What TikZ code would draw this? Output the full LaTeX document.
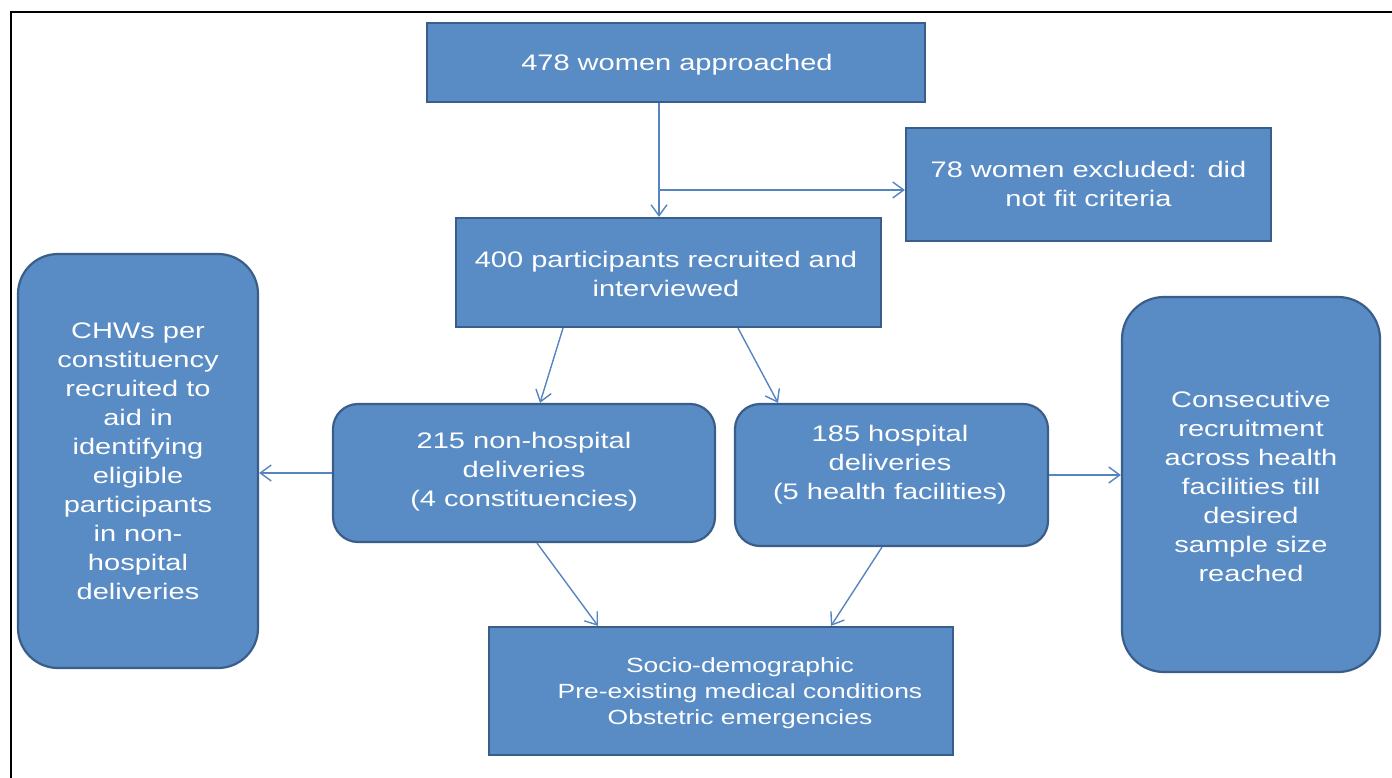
\documentclass[tikz,border=0pt]{standalone}
\usepackage{fontspec}
\setmainfont[FakeStretch=1.29]{Liberation Sans}
\usetikzlibrary{arrows.meta}
\definecolor{boxfill}{RGB}{89,139,196}
\definecolor{boxline}{RGB}{58,94,138}
\definecolor{arr}{RGB}{84,133,192}
\begin{document}
\begin{tikzpicture}[x=1pt,y=-1pt,
  box/.style={draw=boxline, fill=boxfill, line width=2.2pt, inner sep=0pt},
  txt/.style={text=white, align=center, font=\fontsize{22.5}{29}\selectfont, inner sep=0pt},
  smalltxt/.style={txt, font=\fontsize{20.5}{26}\selectfont},
  arrow/.style={draw=arr, line width=1.4pt, -{Straight Barb[length=11pt,width=16pt,line width=1.4pt]}}]
\useasboundingbox (0,0) rectangle (1392,778);
\draw[line width=2.5pt, black] (11,778) -- (11,12) -- (1392,12);

% boxes
\node[box, minimum width=498pt, minimum height=79pt] (top) at (676,62.5) {};
\node[box, minimum width=365pt, minimum height=113pt] (exc) at (1088.5,184.5) {};
\node[box, minimum width=425pt, minimum height=109pt] (rec) at (668.5,272.5) {};
\node[box, rounded corners=40pt, minimum width=240pt, minimum height=414pt] (left) at (138,461) {};
\node[box, rounded corners=25pt, minimum width=382pt, minimum height=138pt] (n215) at (524,473) {};
\node[box, rounded corners=25pt, minimum width=313pt, minimum height=142pt] (h185) at (891.5,475) {};
\node[box, rounded corners=42pt, minimum width=258pt, minimum height=375pt] (right) at (1251,484.5) {};
\node[box, minimum width=464pt, minimum height=128pt] (bot) at (721,691) {};

% texts
\node[txt] (ttop) at (677,65) {478 women approached};
\node[txt] (texc) at (1088.5,184) {78 women excluded: did\\not fit criteria};
\node[txt] (trec) at (666,274) {400 participants recruited and\\interviewed};
\node[txt] (tleft) at (138,461) {CHWs per\\constituency\\recruited to\\aid in\\identifying\\eligible\\participants\\in non-\\hospital\\deliveries};
\node[txt] (t215) at (524,472) {215 non-hospital\\deliveries\\(4 constituencies)};
\node[txt] (t185) at (890,464.5) {185 hospital\\deliveries\\(5 health facilities)};
\node[txt] (tright) at (1251,486) {Consecutive\\recruitment\\across health\\facilities till\\desired\\sample size\\reached};
\node[smalltxt] (tbot) at (740,693) {Socio-demographic\\Pre-existing medical conditions\\Obstetric emergencies};

% connectors
\coordinate (j) at (659,190);
\draw[arrow] (j |- top.south) -- (j |- rec.north);
\draw[arrow] (j) -- (j -| exc.west);
\draw[arrow] ([xshift=-105.5pt]rec.south) -- ([xshift=16pt]n215.north);
\draw[arrow] ([xshift=69.5pt]rec.south) -- ([xshift=-113.5pt]h185.north);
\draw[arrow] (n215.west) -- (n215.west -| left.east);
\draw[arrow] (h185.east) -- (h185.east -| right.west);
\draw[arrow] ([xshift=13pt]n215.south) -- ([xshift=-123pt]bot.north);
\draw[arrow] ([xshift=-9.5pt]h185.south) -- ([xshift=110pt]bot.north);
\end{tikzpicture}
\end{document}
